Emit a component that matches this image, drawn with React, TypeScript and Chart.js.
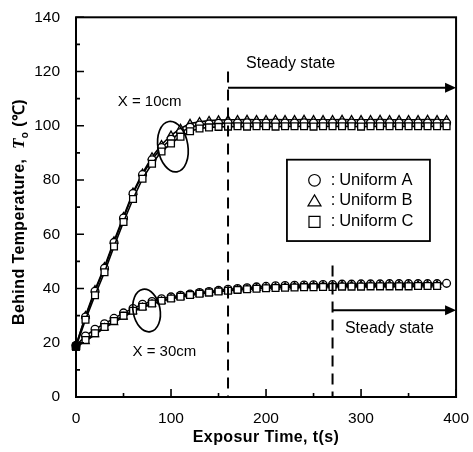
import React, { useEffect, useRef } from 'react';
import { Chart, registerables } from 'chart.js';
Chart.register(...registerables);

// exposure time (s)
const TIME = [0, 10, 20, 30, 40, 50, 60, 70, 80, 90, 100, 110, 120, 130, 140, 150, 160, 170, 180, 190, 200, 210, 220, 230, 240, 250, 260, 270, 280, 290, 300, 310, 320, 330, 340, 350, 360, 370, 380, 390];

// X = 10cm
const A10 = [19, 29.5, 39, 47.5, 57, 66, 75, 82, 87.5, 92, 95, 97.5, 99.5, 100.3, 100.7, 100.9, 101, 101, 101.1, 101, 101, 101.1, 101, 101, 101.1, 101, 101, 101, 101.1, 101, 101, 101, 101, 101.1, 101, 101, 101, 101, 101, 101];
const B10 = [19, 30, 39.5, 48, 57.5, 66.5, 75.5, 82.5, 88.5, 93, 96.5, 99, 100.8, 101.5, 101.9, 102.1, 102.2, 102.2, 102.3, 102.2, 102.2, 102.3, 102.2, 102.2, 102.3, 102.2, 102.2, 102.2, 102.3, 102.2, 102.2, 102.2, 102.3, 102.2, 102.2, 102.2, 102.2, 102.3, 102.2, 102.2];
const C10 = [18.5, 28.5, 37.5, 46, 55.5, 64.5, 73, 80.5, 86, 90.5, 93.5, 96, 98, 99, 99.4, 99.6, 99.7, 99.8, 99.7, 99.8, 99.8, 99.7, 99.8, 99.8, 99.8, 99.7, 99.8, 99.8, 99.8, 99.8, 99.7, 99.8, 99.8, 99.8, 99.8, 99.8, 99.8, 99.8, 99.8, 99.8];

// X = 30cm
const A30 = [19, 22.5, 25, 27, 29, 31, 32.6, 34.2, 35.2, 36.2, 36.9, 37.5, 38, 38.5, 38.9, 39.3, 39.7, 40, 40.3, 40.6, 40.8, 41, 41.1, 41.2, 41.3, 41.4, 41.5, 41.5, 41.6, 41.6, 41.7, 41.7, 41.7, 41.8, 41.8, 41.8, 41.8, 41.8, 41.8, 41.9];
const B30 = [18.5, 20.5, 23, 25.5, 27.5, 29.5, 31.5, 33, 34.3, 35.3, 36.2, 36.9, 37.5, 38, 38.4, 38.8, 39.2, 39.5, 39.8, 40.1, 40.3, 40.5, 40.6, 40.7, 40.8, 40.9, 41, 41, 41.1, 41.1, 41.2, 41.2, 41.2, 41.3, 41.3, 41.3, 41.3, 41.3, 41.3];
const C30 = [18.5, 21, 23.5, 25.8, 28, 30, 31.8, 33.3, 34.5, 35.5, 36.3, 37, 37.6, 38.1, 38.5, 38.9, 39.2, 39.5, 39.7, 39.9, 40.1, 40.2, 40.3, 40.4, 40.5, 40.5, 40.6, 40.6, 40.7, 40.7, 40.7, 40.8, 40.8, 40.8, 40.8, 40.8, 40.9, 40.9, 40.9];

const X_TICKS = [0, 100, 200, 300, 400];
const X_MINOR = [50, 150, 250, 350];
const Y_TICKS = [0, 20, 40, 60, 80, 100, 120, 140];
const Y_MINOR = [10, 30, 50, 70, 90, 110, 130];

const LEGEND_LABELS = ['Uniform A', 'Uniform B', 'Uniform C'];
const X_TITLE = 'Exposur Time, t(s)';
const Y_TITLE_PARTS = ['Behind Temperature,  ', 'T', 'o', ' (\u2103)'];
const LABEL_10 = 'X = 10cm';
const LABEL_30 = 'X = 30cm';
const STEADY = 'Steady state';

const FONT = '"Liberation Sans", Arial, Helvetica, sans-serif';

const toPts = (vals: number[]) => vals.map((v, i) => ({ x: TIME[i], y: v }));

const makeDs = (vals: number[], style: string, radius: number) => ({
  data: toPts(vals),
  borderColor: '#000',
  borderWidth: 1.6,
  pointStyle: style,
  pointRadius: radius,
  pointBorderWidth: 1.3,
  pointBorderColor: '#000',
  pointBackgroundColor: vals.map((_, i) => (i === 0 ? '#000' : '#fff')),
  showLine: true,
  fill: false,
  tension: 0,
  clip: false as any,
});

const annotPlugin = {
  id: 'annot',
  afterDraw(chart: any) {
    const { ctx, chartArea: ca, scales } = chart;
    const xs = scales.x;
    const ys = scales.y;
    const px = (v: number) => xs.getPixelForValue(v);
    const py = (v: number) => ys.getPixelForValue(v);
    ctx.save();
    ctx.strokeStyle = '#000';
    ctx.fillStyle = '#000';

    // frame
    ctx.lineWidth = 2;
    ctx.setLineDash([]);
    ctx.strokeRect(ca.left, ca.top, ca.right - ca.left, ca.bottom - ca.top);

    // inward ticks
    ctx.lineWidth = 1.6;
    ctx.beginPath();
    X_TICKS.forEach((t) => { ctx.moveTo(px(t), ca.bottom); ctx.lineTo(px(t), ca.bottom - 8); });
    X_MINOR.forEach((t) => { ctx.moveTo(px(t), ca.bottom); ctx.lineTo(px(t), ca.bottom - 4); });
    Y_TICKS.forEach((t) => { ctx.moveTo(ca.left, py(t)); ctx.lineTo(ca.left + 8, py(t)); });
    Y_MINOR.forEach((t) => { ctx.moveTo(ca.left, py(t)); ctx.lineTo(ca.left + 4, py(t)); });
    ctx.stroke();

    // dashed steady-state lines
    ctx.lineWidth = 2;
    ctx.setLineDash([11, 7]);
    ctx.beginPath();
    ctx.moveTo(px(160), py(120));
    ctx.lineTo(px(160), ca.bottom);
    ctx.moveTo(px(270), py(48.5));
    ctx.lineTo(px(270), ca.bottom);
    ctx.stroke();
    ctx.setLineDash([]);

    // arrows
    const arrow = (x0: number, x1: number, yv: number) => {
      const yy = py(yv);
      ctx.lineWidth = 2;
      ctx.beginPath();
      ctx.moveTo(px(x0), yy);
      ctx.lineTo(px(x1) - 8, yy);
      ctx.stroke();
      ctx.beginPath();
      ctx.moveTo(px(x1), yy);
      ctx.lineTo(px(x1) - 11, yy - 5);
      ctx.lineTo(px(x1) - 11, yy + 5);
      ctx.closePath();
      ctx.fill();
    };
    arrow(160, 400, 114);
    arrow(270, 400, 32);

    // texts
    ctx.font = `16px ${FONT}`;
    ctx.textBaseline = 'middle';
    ctx.textAlign = 'left';
    ctx.fillText(STEADY, px(179), py(122.8));
    ctx.fillText(STEADY, px(283), py(25.3));
    ctx.font = `15px ${FONT}`;
    ctx.textAlign = 'center';
    ctx.fillText(LABEL_10, px(77.5), py(108.8));
    ctx.fillText(LABEL_30, px(93), py(16.5));

    // ellipses
    ctx.lineWidth = 1.7;
    ctx.beginPath();
    ctx.ellipse(px(102), py(92.3), 15, 25.5, -0.16, 0, Math.PI * 2);
    ctx.stroke();
    ctx.beginPath();
    ctx.ellipse(px(74.3), py(31.9), 13.5, 21.5, -0.18, 0, Math.PI * 2);
    ctx.stroke();

    // legend box
    const bx0 = px(222), bx1 = px(372.5), by0 = py(87.5), by1 = py(57.5);
    ctx.lineWidth = 1.8;
    ctx.fillStyle = '#fff';
    ctx.fillRect(bx0, by0, bx1 - bx0, by1 - by0);
    ctx.strokeRect(bx0, by0, bx1 - bx0, by1 - by0);
    ctx.fillStyle = '#000';
    const rowsY = [79.9, 72.3, 64.6];
    const symX = px(251);
    ctx.lineWidth = 1.2;
    rowsY.forEach((rv, i) => {
      const yy = py(rv);
      ctx.beginPath();
      if (i === 0) {
        ctx.arc(symX, yy, 5.8, 0, Math.PI * 2);
      } else if (i === 1) {
        ctx.moveTo(symX, yy - 6);
        ctx.lineTo(symX + 6.5, yy + 5);
        ctx.lineTo(symX - 6.5, yy + 5);
        ctx.closePath();
      } else {
        ctx.rect(symX - 5.5, yy - 5.5, 11, 11);
      }
      ctx.stroke();
      ctx.font = `16.5px ${FONT}`;
      ctx.textAlign = 'left';
      ctx.fillText(':', px(268), yy);
      ctx.fillText(LEGEND_LABELS[i], px(277), yy);
    });

    // x title
    ctx.font = `bold 16px ${FONT}`;
    ctx.textAlign = 'center';
    (ctx as any).letterSpacing = '0.4px';
    ctx.fillText(X_TITLE, (ca.left + ca.right) / 2, 438);

    // y title (rotated)
    ctx.translate(20, 212);
    ctx.rotate(-Math.PI / 2);
    const fBold = `bold 16px ${FONT}`;
    const fItal = `italic bold 17px "Liberation Serif", serif`;
    const fSub = `bold 10px ${FONT}`;
    const fonts = [fBold, fItal, fSub, fBold];
    const widths = Y_TITLE_PARTS.map((s, i) => { ctx.font = fonts[i]; return ctx.measureText(s).width; });
    const total = widths.reduce((a, b) => a + b, 0);
    let cx = -total / 2;
    ctx.textAlign = 'left';
    Y_TITLE_PARTS.forEach((s, i) => {
      ctx.font = fonts[i];
      ctx.fillText(s, cx, i === 2 ? 5 : 0);
      cx += widths[i];
    });
    ctx.restore();
  },
};

export default function App() {
  const ref = useRef<HTMLCanvasElement>(null);
  useEffect(() => {
    document.body.style.margin = '0';
    const chart = new Chart(ref.current as HTMLCanvasElement, {
      type: 'line',
      data: {
        datasets: [
          makeDs(C10, 'rect', 4.8),
          makeDs(A10, 'circle', 3.9),
          makeDs(B10, 'triangle', 4.2),
          makeDs(C30, 'rect', 4.8),
          makeDs(B30, 'triangle', 4.2),
          makeDs(A30, 'circle', 3.9),
        ] as any,
      },
      options: {
        animation: false,
        responsive: false,
        maintainAspectRatio: false,
        layout: { padding: { left: 0, top: 14, right: 12, bottom: 0 } },
        plugins: { legend: { display: false }, tooltip: { enabled: false } },
        scales: {
          x: {
            type: 'linear',
            min: 0,
            max: 400,
            afterFit: (s: any) => { s.height = 55; },
            afterBuildTicks: (s: any) => { s.ticks = X_TICKS.map((v) => ({ value: v })); },
            grid: { display: false },
            border: { display: false },
            ticks: { color: '#000', font: { size: 15.5, family: FONT }, padding: 4, maxRotation: 0 },
          },
          y: {
            type: 'linear',
            min: 0,
            max: 140,
            afterFit: (s: any) => { s.width = 76; },
            afterBuildTicks: (s: any) => { s.ticks = Y_TICKS.map((v) => ({ value: v })); },
            grid: { display: false },
            border: { display: false },
            ticks: { color: '#000', font: { size: 15.5, family: FONT }, padding: 8 },
          },
        },
      },
      plugins: [annotPlugin],
    });
    return () => chart.destroy();
  }, []);
  return <canvas ref={ref} width={473} height={452} style={{ display: 'block' }} />;
}
